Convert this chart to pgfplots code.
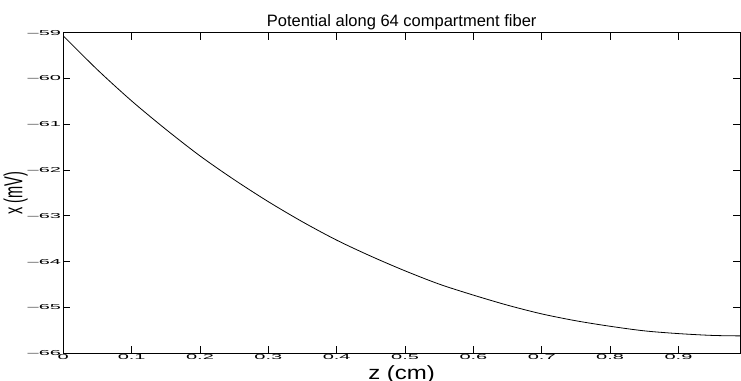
\documentclass[border=0pt]{standalone}
\usepackage{pgfplots}
\pgfplotsset{compat=1.18}
\usepackage{fontspec}
\setmainfont{Liberation Sans}
\begin{document}
\begin{tikzpicture}
\begin{axis}[
  name=ax,
  scale only axis,
  width=676.7pt, height=320.6pt,
  xmin=0, xmax=0.99, ymin=-66, ymax=-59,
  xtick={0,0.1,0.2,0.3,0.4,0.5,0.6,0.7,0.8,0.9},
  ytick={-66,-65,-64,-63,-62,-61,-60,-59},
  xticklabels={0,0.1,0.2,0.3,0.4,0.5,0.6,0.7,0.8,0.9},
  yticklabels={--66,--65,--64,--63,--62,--61,--60,--59},
  tick align=inside,
  major tick length=7pt,
  tick style={black, line width=0.8pt},
  axis line style={black, line width=1pt},
  xticklabel style={font=\fontsize{20}{20}\selectfont, yscale=0.36, inner sep=1pt, yshift=-3pt},
  yticklabel style={font=\fontsize{20}{20}\selectfont, yscale=0.36, inner sep=1pt, xshift=-1pt},
  title={Potential along 64 compartment fiber},
  title style={font=\fontsize{16.5}{16.5}\selectfont, yshift=-7pt},
  xlabel={\scalebox{1}[0.8]{z (cm)}},
  xlabel style={font=\fontsize{24}{24}\selectfont, yshift=-2pt},
  ylabel={\scalebox{0.56}[1]{x (mV)}},
  ylabel style={font=\fontsize{26}{26}\selectfont, yshift=-4.6pt},
]
\addplot[black, line width=0.8pt, smooth] coordinates {
(0.00,-59.07) (0.05,-59.81) (0.10,-60.49) (0.15,-61.11) (0.20,-61.69)
(0.25,-62.21) (0.30,-62.69) (0.35,-63.13) (0.40,-63.53) (0.45,-63.88)
(0.50,-64.20) (0.55,-64.49) (0.60,-64.73) (0.65,-64.95) (0.70,-65.14)
(0.75,-65.29) (0.80,-65.41) (0.85,-65.51) (0.90,-65.57) (0.95,-65.61)
(0.99,-65.62)
};
\end{axis}
\pgfresetboundingbox
\path ([xshift=-63.3pt,yshift=-27.7pt]ax.south west) rectangle ([xshift=1pt,yshift=32.7pt]ax.north east);
\end{tikzpicture}
\end{document}
